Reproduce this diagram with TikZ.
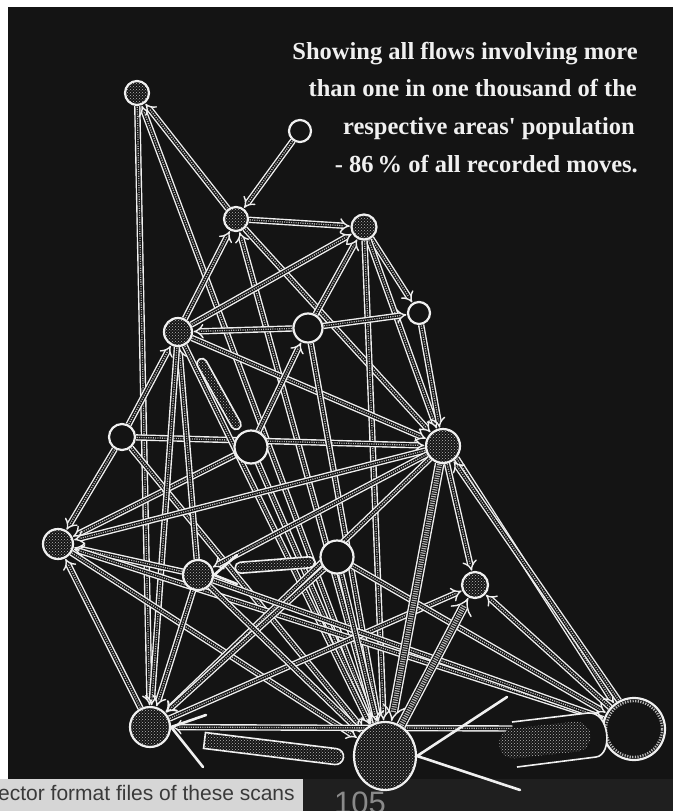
\documentclass[tikz,border=0pt]{standalone}
\usepackage{fontspec}
\setmainfont{Liberation Serif}
\newfontfamily\scanfont{Liberation Sans}
\usetikzlibrary{arrows.meta,patterns,shapes.geometric,shapes.misc,calc}
\pgfdeclarelayer{back}
\pgfdeclarelayer{edges}
\pgfsetlayers{back,edges,main}
\definecolor{mapblack}{HTML}{141414}
\definecolor{rimwhite}{HTML}{F0F0F0}
\definecolor{dotgrey}{HTML}{B8B8B8}
\definecolor{scanpaper}{HTML}{D6D6D6}
\definecolor{inkgray}{HTML}{3A3A3A}
\definecolor{pagegray}{HTML}{8A8A8A}

\newcommand{\flow}[2]{%
  \draw[flowrim] (#1) -- (#2);
  \draw[flowcore] (#1) -- (#2);}
\newcommand{\wideflow}[2]{%
  \draw[widerim] (#1) -- (#2);
  \draw[widecore] (#1) -- (#2);}

\begin{document}
\begin{tikzpicture}[x=1pt,y=-1pt,
  area/.style={circle,draw=rimwhite,line width=2.2pt,inner sep=0pt,
    preaction={fill=mapblack},pattern=crosshatch dots,pattern color=dotgrey},
  emptyarea/.style={circle,draw=rimwhite,line width=2.2pt,inner sep=0pt,fill=mapblack},
  flowrim/.style={draw=rimwhite,line width=1.4pt,double=mapblack,double distance=3.6pt,
    -{Implies},shorten >=0.6pt},
  flowcore/.style={draw=dotgrey,line width=1.3pt,dash pattern=on 1.1pt off 1.2pt,
    shorten >=7pt,shorten <=0.6pt},
  widerim/.style={flowrim,double distance=7pt},
  widecore/.style={flowcore,line width=5pt,shorten >=9pt},
  bigbarb/.style={draw=rimwhite,line width=2.6pt,line cap=round},
  hatchcap/.style={rounded rectangle,inner sep=0pt,draw=rimwhite,line width=1.6pt,
    preaction={fill=mapblack},pattern=crosshatch dots,pattern color=dotgrey},
  title/.style={font=\bfseries\fontsize{24.5}{30}\selectfont,text=rimwhite,
    anchor=base east,inner sep=0pt}]

  \useasboundingbox (0,0) rectangle (673,811);

  % =====================================================================
  % Scan page and black map panel
  % =====================================================================
  \begin{pgfonlayer}{back}
    \fill[white] (0,0) rectangle (673,811);
    \fill[mapblack] (8,7) rectangle (673,811);
    \fill[scanpaper] (0,779) rectangle (303,811);
    \fill[black!88] (303,779) rectangle (673,811);
  \end{pgfonlayer}

  % Caption
  \node[title] (t1) at (638,59) {Showing all flows involving more};
  \node[title] (t2) at (637,96.5) {than one in one thousand of the};
  \node[title] (t3) at (635,134) {respective areas\textquotesingle{} population};
  \node[title] (t4) at (638,172) {- 86\,\% of all recorded moves.};

  % =====================================================================
  % Areas
  % =====================================================================
  \node[area,minimum size=24pt] (n1) at (137,93) {};
  \node[emptyarea,minimum size=22pt] (n2) at (300,131) {};
  \node[area,minimum size=24pt] (n3) at (236,219) {};
  \node[area,minimum size=25pt] (n4) at (364,227) {};
  \node[area,minimum size=28pt] (n5) at (178,332) {};
  \node[emptyarea,minimum size=29pt] (n6) at (308,328) {};
  \node[emptyarea,minimum size=22pt] (n7) at (419,313) {};
  \node[emptyarea,minimum size=26pt] (n8) at (122,437) {};
  \node[emptyarea,minimum size=33pt] (n9) at (251,447) {};
  \node[area,minimum size=34pt] (n10) at (443,446) {};
  \node[area,minimum size=30pt] (n11) at (58,544) {};
  \node[area,minimum size=30pt] (n12) at (198,575) {};
  \node[emptyarea,minimum size=33pt] (n13) at (337,557) {};
  \node[area,minimum size=26pt] (n14) at (475,585) {};
  \node[area,minimum size=40pt] (n15) at (150,727) {};
  \node[area,ellipse,minimum width=62pt,minimum height=68pt] (n16) at (385,756) {};
  \node[emptyarea,minimum size=62pt] (n17) at (634,729) {};
  \draw[dotgrey,line width=2.4pt,dash pattern=on 1.2pt off 1.4pt] (n17) circle (28pt);

  % =====================================================================
  % Flows between areas
  % =====================================================================
  \begin{pgfonlayer}{edges}
    \foreach \src/\dst in {n1/n15,n16/n1,n3/n1,n2/n3,n3/n4,n5/n3,n16/n3,n3/n10,
        n5/n4,n6/n4,n4/n7,n4/n10,n4/n16,n6/n7,n6/n5,n7/n10,n5/n10,n8/n5,n8/n11,
        n8/n10,n9/n11,n9/n6,n9/n16,n5/n16,n6/n16,n8/n16,n12/n5,n5/n15,n12/n11,
        n17/n11,n11/n16,n15/n11,n10/n11,n10/n12,n10/n15,n13/n15,n15/n14,n12/n15,
        n12/n16,n12/n17,n13/n16,n13/n17,n10/n14,n17/n14,n10.-42/n17.128,
        n17.118/n10.-55,n17/n15}
      {\flow{\src}{\dst}}

    % heavier flows
    \wideflow{n10}{n16}
    \wideflow{n16}{n14}
  \end{pgfonlayer}

  % Large flows drawn as broad bands
  % n9 -> n5 stub
  \node[hatchcap,minimum width=80pt,minimum height=10pt,rotate=-60.8] (c1) at (219,394) {};

  % n13 -> n12
  \node[hatchcap,minimum width=80pt,minimum height=11pt,rotate=4.5] (c2) at (275,565) {};
  \draw[bigbarb] (237,555) -- (n12.east) -- (237,584);

  % n16 -> n15
  \node[hatchcap,rounded rectangle west arc=none,minimum width=140pt,minimum height=16pt,
        rotate=-7] (c3) at (274,749) {};
  \draw[bigbarb] (206,715) -- (n15.east) -- (203,767);

  % n17 -> n16
  \fill[mapblack] (512,722) -- (588,713) .. controls (610,711) and (613,755) .. (596,757)
        -- (517,767) -- cycle;
  \draw[rimwhite,line width=1.6pt] (512,722) -- (588,713) .. controls (610,711) and (613,755)
        .. (596,757) -- (517,767);
  \node[hatchcap,draw=none,minimum width=92pt,minimum height=30pt,rotate=6.2] (c4) at (545,740) {};
  \draw[bigbarb] (507,697) -- (n16.east) -- (520,790);

  % Scan footer
  \node[font=\scanfont\fontsize{21}{24}\selectfont,text=inkgray,anchor=base west,inner sep=0pt]
        (scannote) at (-2,800) {ector format files of these scans};
  \node[font=\scanfont\fontsize{31}{34}\selectfont,text=pagegray,anchor=base west,inner sep=0pt]
        (pageno) at (334,813) {105};

\end{tikzpicture}
\end{document}
